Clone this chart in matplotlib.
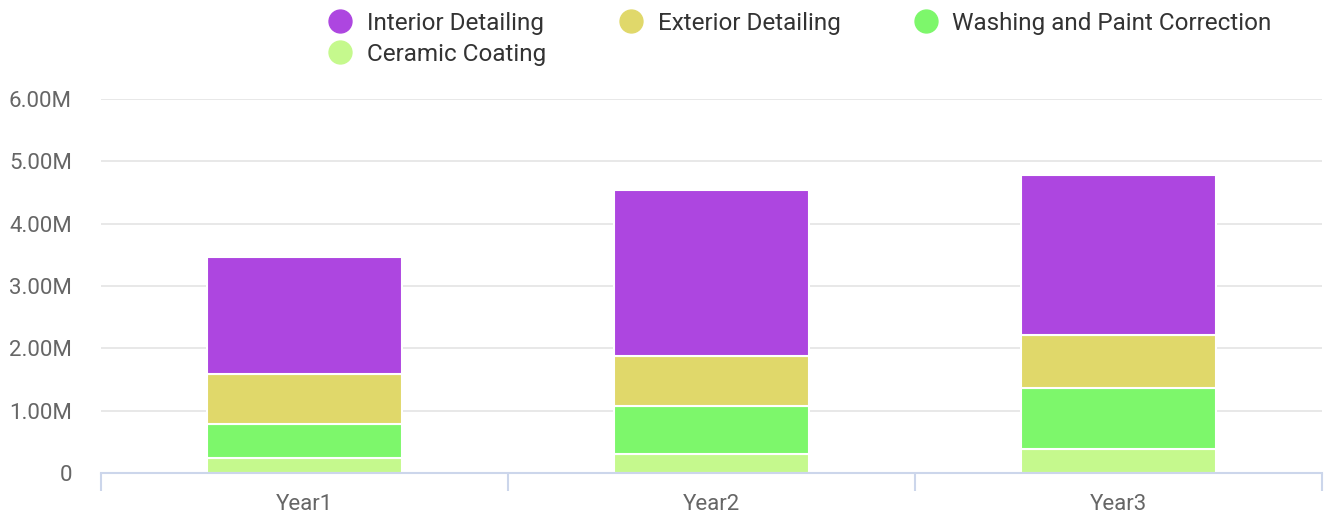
import matplotlib.pyplot as plt
from matplotlib.lines import Line2D
from matplotlib.ticker import FuncFormatter

years = ["Year1", "Year2", "Year3"]
interior = [1.88, 2.66, 2.57]
exterior = [0.80, 0.80, 0.84]
washing = [0.55, 0.77, 0.99]
ceramic = [0.24, 0.31, 0.38]

series_names = ["Interior Detailing", "Exterior Detailing",
                "Washing and Paint Correction", "Ceramic Coating"]
colors = ["#ad46e0", "#e0d86a", "#7df76b", "#c5f98d"]

plt.rcParams["font.family"] = ["Roboto", "DejaVu Sans"]

fig = plt.figure(figsize=(13.28, 5.18), dpi=100)
ax = fig.add_axes([101 / 1328, 45 / 518, 1221 / 1328, 374 / 518])

x = list(range(len(years)))
width = 0.477
# stacked from the bottom up
stack = [(ceramic, colors[3]), (washing, colors[2]),
         (exterior, colors[1]), (interior, colors[0])]
bottom = [0.0] * len(years)
for values, color in stack:
    ax.bar(x, values, width=width, bottom=bottom, color=color,
           edgecolor="white", linewidth=1.5, zorder=3)
    bottom = [b + v for b, v in zip(bottom, values)]

ax.set_xlim(-0.5, 2.5)
ax.set_ylim(0, 6.0)
ax.set_yticks([0, 1, 2, 3, 4, 5, 6])
ax.yaxis.set_major_formatter(FuncFormatter(lambda v, _: "0" if v == 0 else f"{v:.2f}M"))
ax.grid(axis="y", color="#e6e6e6", linewidth=1.3, zorder=0)
ax.tick_params(axis="y", length=0, pad=21, labelsize=16, labelcolor="#666666")

ax.set_xticks(x)
ax.set_xticklabels(years)
ax.set_xticks([-0.5, 0.5, 1.5, 2.5], minor=True)
ax.tick_params(axis="x", which="major", length=0, pad=15, labelsize=16, labelcolor="#666666")
ax.tick_params(axis="x", which="minor", length=13, width=1.5, color="#ccd6eb", direction="out")

for side in ["top", "right", "left"]:
    ax.spines[side].set_visible(False)
ax.spines["bottom"].set_color("#ccd6eb")
ax.spines["bottom"].set_linewidth(1.5)
ax.spines["bottom"].set_zorder(4)

handles = [Line2D([], [], marker="o", linestyle="none", markersize=16.5,
                  markerfacecolor=c, markeredgecolor=c) for c in colors]
order = [0, 3, 1, 2]
fig.legend([handles[i] for i in order], [series_names[i] for i in order],
           ncol=3, loc="upper left", bbox_to_anchor=(318 / 1328, 1.0 - 2 / 518),
           frameon=False, fontsize=17.5, labelcolor="#333333",
           handlelength=1.0, handletextpad=0.6, columnspacing=3.0,
           labelspacing=0.32, borderaxespad=0)

fig.savefig("out.png", dpi=100)
